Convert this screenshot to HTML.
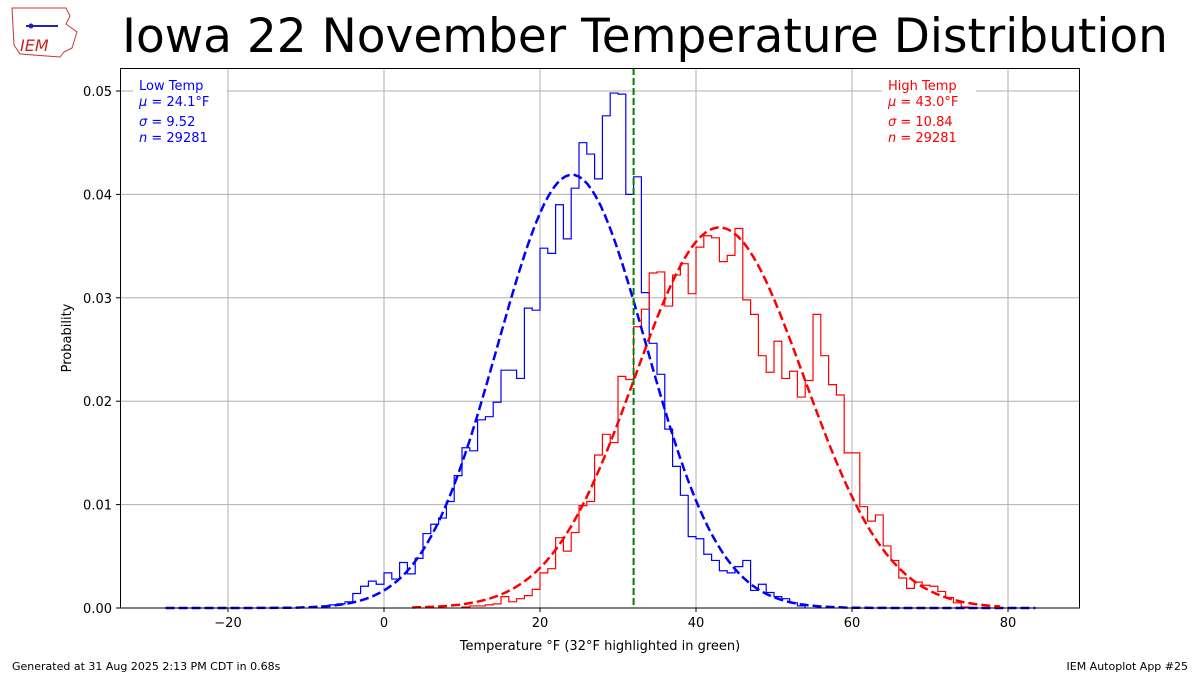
<!DOCTYPE html>
<html><head><meta charset="utf-8"><style>
body{margin:0;background:#fff;width:1200px;height:675px;overflow:hidden;font-family:"Liberation Sans","DejaVu Sans",sans-serif}
svg text{font-family:"DejaVu Sans","Liberation Sans",sans-serif}
</style></head><body>
<svg id="c" width="1200" height="675" xmlns="http://www.w3.org/2000/svg">
<g>
<path d="M12,8 L66,8 L70,16 L66,24 L77,32 L72,48 L64,52 L60,57 L20,54 L14,45 Z" fill="#fff" stroke="#c33" stroke-width="1"/>
<text x="20" y="51" font-size="16" fill="#c22" font-style="italic" font-family="Liberation Serif, serif">IEM</text>
<line x1="26" y1="26" x2="58" y2="26" stroke="#22a" stroke-width="2"/>
<circle cx="31" cy="26" r="2.5" fill="#22a"/>
</g>
<text x="645" y="52" font-size="47" text-anchor="middle" fill="#000">Iowa 22 November Temperature Distribution</text>
<g id="grid"></g>
<g id="plot"></g>
<rect x="120.5" y="68.5" width="959" height="539.5" fill="none" stroke="#000" stroke-width="1"/>
<g id="ticks"></g>
<text x="600" y="650" font-size="13" text-anchor="middle">Temperature  °F (32°F highlighted in green)</text>
<text transform="translate(71,338) rotate(-90)" font-size="13" text-anchor="middle">Probability</text>
<g>
<rect x="133" y="74" width="94" height="74" fill="#fff"/>
<text x="139" y="90" font-size="13" fill="blue">Low Temp</text>
<text x="139" y="106" font-size="13" fill="blue"><tspan font-style="italic">μ</tspan> = 24.1°F</text>
<text x="139" y="126" font-size="13" fill="blue"><tspan font-style="italic">σ</tspan> = 9.52</text>
<text x="139" y="142" font-size="13" fill="blue"><tspan font-style="italic">n</tspan> = 29281</text>
</g>
<g>
<rect x="882" y="74" width="94" height="74" fill="#fff"/>
<text x="888" y="90" font-size="13" fill="red">High Temp</text>
<text x="888" y="106" font-size="13" fill="red"><tspan font-style="italic">μ</tspan> = 43.0°F</text>
<text x="888" y="126" font-size="13" fill="red"><tspan font-style="italic">σ</tspan> = 10.84</text>
<text x="888" y="142" font-size="13" fill="red"><tspan font-style="italic">n</tspan> = 29281</text>
</g>
<text x="12" y="670" font-size="11">Generated at 31 Aug 2025 2:13 PM CDT in 0.68s</text>
<text x="1188" y="670" font-size="11" text-anchor="end">IEM Autoplot App #25</text>
</svg>
<script>
const xTicks=[-20,0,20,40,60,80];
const yTicks=[0,0.01,0.02,0.03,0.04,0.05];
const lowStart=-8;
const lowVals=[0.0002,0.0003,0.0004,0.0006,0.0014,0.0021,0.0026,0.0023,0.0034,0.0028,0.0044,0.0033,0.0048,0.0072,0.0081,0.0087,0.0103,0.0128,0.0155,0.0152,0.0182,0.0185,0.0199,0.023,0.023,0.0222,0.029,0.0288,0.0348,0.0343,0.039,0.0357,0.0406,0.045,0.0439,0.0415,0.0476,0.0498,0.0497,0.040,0.0417,0.0305,0.0256,0.0226,0.0173,0.0137,0.0109,0.0069,0.0067,0.0052,0.0046,0.0036,0.0034,0.004,0.0046,0.0017,0.0023,0.0015,0.0011,0.0009,0.0005,0.0002];
const highStart=10;
const highVals=[0.0001,0.0002,0.0002,0.0003,0.0004,0.0011,0.0006,0.0009,0.0012,0.0018,0.0034,0.0038,0.0068,0.0055,0.0073,0.0099,0.0103,0.0148,0.0168,0.016,0.0224,0.0221,0.0272,0.0289,0.0324,0.0325,0.0292,0.0322,0.0333,0.0304,0.0349,0.036,0.0358,0.0335,0.0341,0.0367,0.0298,0.0284,0.0244,0.0228,0.0258,0.0222,0.0229,0.0204,0.022,0.0284,0.0244,0.0216,0.0206,0.015,0.015,0.0098,0.0084,0.009,0.006,0.0046,0.0029,0.0019,0.0025,0.0022,0.0021,0.0016,0.001,0.0005,0.0001];
const lowMu=24.1, lowSigma=9.52, lowRange=[-28,83.5];
const highMu=43.0, highSigma=10.84, highRange=[3.6,79];
const freezing=32;
const NS='http://www.w3.org/2000/svg';
const X=v=>384+v*7.8;
const Y=p=>608-p*10340;
function mk(t,a,parent){const e=document.createElementNS(NS,t);for(const k in a)e.setAttribute(k,a[k]);parent.appendChild(e);return e;}
const grid=document.getElementById('grid'),plot=document.getElementById('plot'),ticks=document.getElementById('ticks');
xTicks.forEach(v=>{
 const g=mk('line',{x1:X(v),x2:X(v),y1:68,y2:608,stroke:'#b0b0b0','stroke-width':1},grid);
 
 
 mk('line',{x1:X(v),x2:X(v),y1:608,y2:612,stroke:'#000'},ticks);
 const t=mk('text',{x:X(v),y:627,'font-size':13,'text-anchor':'middle'},ticks);
 t.textContent=v<0?'−'+(-v):v;
 
 
});
yTicks.forEach(v=>{
 const g=mk('line',{x1:120,x2:1080,y1:Y(v),y2:Y(v),stroke:'#b0b0b0','stroke-width':1},grid);
 
 
 mk('line',{x1:116,x2:120,y1:Y(v),y2:Y(v),stroke:'#000'},ticks);
 const t=mk('text',{x:112,y:Y(v)+5,'font-size':13,'text-anchor':'end'},ticks);
 t.textContent=v.toFixed(2);
 
 
});
function hist(start,vals,color,name){
 let d='M'+X(start)+','+Y(0);
 vals.forEach((v,i)=>{d+=' L'+X(start+i)+','+Y(v)+' L'+X(start+i+1)+','+Y(v);});
 d+=' L'+X(start+vals.length)+','+Y(0);
 const p=mk('path',{d:d,fill:'none',stroke:color,'stroke-width':1.2},plot);
 
 
}
function curve(mu,s,r,color,name){
 let d='';
 for(let i=0;i<=200;i++){const x=r[0]+(r[1]-r[0])*i/200;const p=Math.exp(-0.5*((x-mu)/s)**2)/(s*Math.sqrt(2*Math.PI));d+=(i?' L':'M')+X(x).toFixed(1)+','+Y(p).toFixed(1);}
 const p=mk('path',{d:d,fill:'none',stroke:color,'stroke-width':2.5,'stroke-dasharray':'9,4'},plot);
 
 
}
hist(lowStart,lowVals,'blue','low-temp-histogram');
hist(highStart,highVals,'red','high-temp-histogram');
curve(lowMu,lowSigma,lowRange,'blue','low-temp-normal-fit');
curve(highMu,highSigma,highRange,'red','high-temp-normal-fit');
const g=mk('line',{x1:X(freezing),x2:X(freezing),y1:68,y2:608,stroke:'green','stroke-width':2,'stroke-dasharray':'7,3'},plot);


</script>
</body></html>
